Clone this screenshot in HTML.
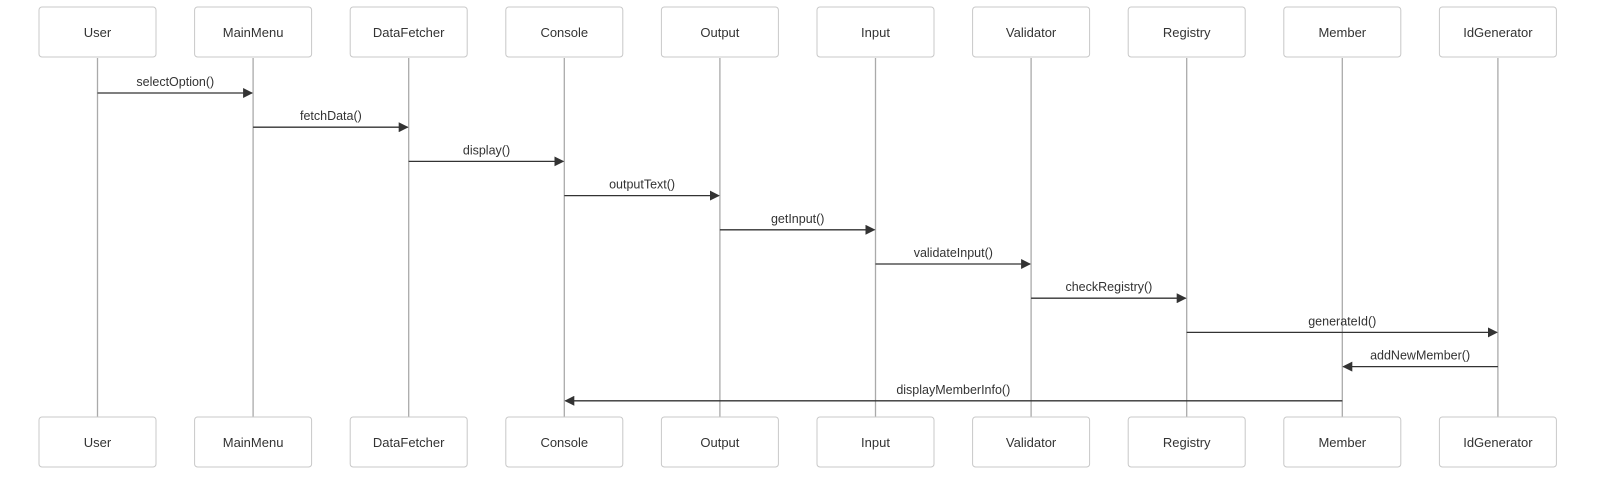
<!DOCTYPE html>
<html><head><meta charset="utf-8"><style>
html,body{margin:0;padding:0;background:#fff;}
svg{display:block;}
text{font-family:"Liberation Sans",Arial,sans-serif;fill:#333;}
</style></head><body>
<svg width="1600" height="477" viewBox="0 0 1600 477" xmlns="http://www.w3.org/2000/svg">
<defs>
<marker id="a" markerWidth="10" markerHeight="10" refX="9" refY="5" orient="auto" markerUnits="userSpaceOnUse">
<path d="M0,0 L10,5 L0,10 z" fill="#333"/>
</marker>
</defs>
<g id="g"></g>
</svg>
<script>
var names=["User","MainMenu","DataFetcher","Console","Output","Input","Validator","Registry","Member","IdGenerator"];
var cx=function(i){return 97.5+155.6*i;};
var s='';
names.forEach(function(n,i){
 var x=cx(i);
 s+='<line x1="'+x+'" y1="58" x2="'+x+'" y2="417" stroke="#aaa" stroke-width="1.3"/>';
 [7,417].forEach(function(y){
  s+='<rect x="'+(x-58.5)+'" y="'+y+'" width="117" height="50" rx="3" fill="#fff" stroke="#c8c8c8" stroke-width="1"/>';
  s+='<text x="'+x+'" y="'+(y+30)+'" font-size="13" text-anchor="middle">'+n+'</text>';
 });
});
var msgs=[[0,1,"selectOption()"],[1,2,"fetchData()"],[2,3,"display()"],[3,4,"outputText()"],[4,5,"getInput()"],[5,6,"validateInput()"],[6,7,"checkRegistry()"],[7,9,"generateId()"],[9,8,"addNewMember()"],[8,3,"displayMemberInfo()"]];
msgs.forEach(function(m,k){
 var y=93+34.2*k, x1=cx(m[0]), x2=cx(m[1]);
 var d=x2>x1?-1:1;
 s+='<line x1="'+x1+'" y1="'+y+'" x2="'+(x2+d)+'" y2="'+y+'" stroke="#333" stroke-width="1.3" marker-end="url(#a)"/>';
 s+='<text x="'+((x1+x2)/2)+'" y="'+(y-7)+'" font-size="12.5" text-anchor="middle">'+m[2]+'</text>';
});
document.getElementById('g').innerHTML=s;
</script>
</body></html>
